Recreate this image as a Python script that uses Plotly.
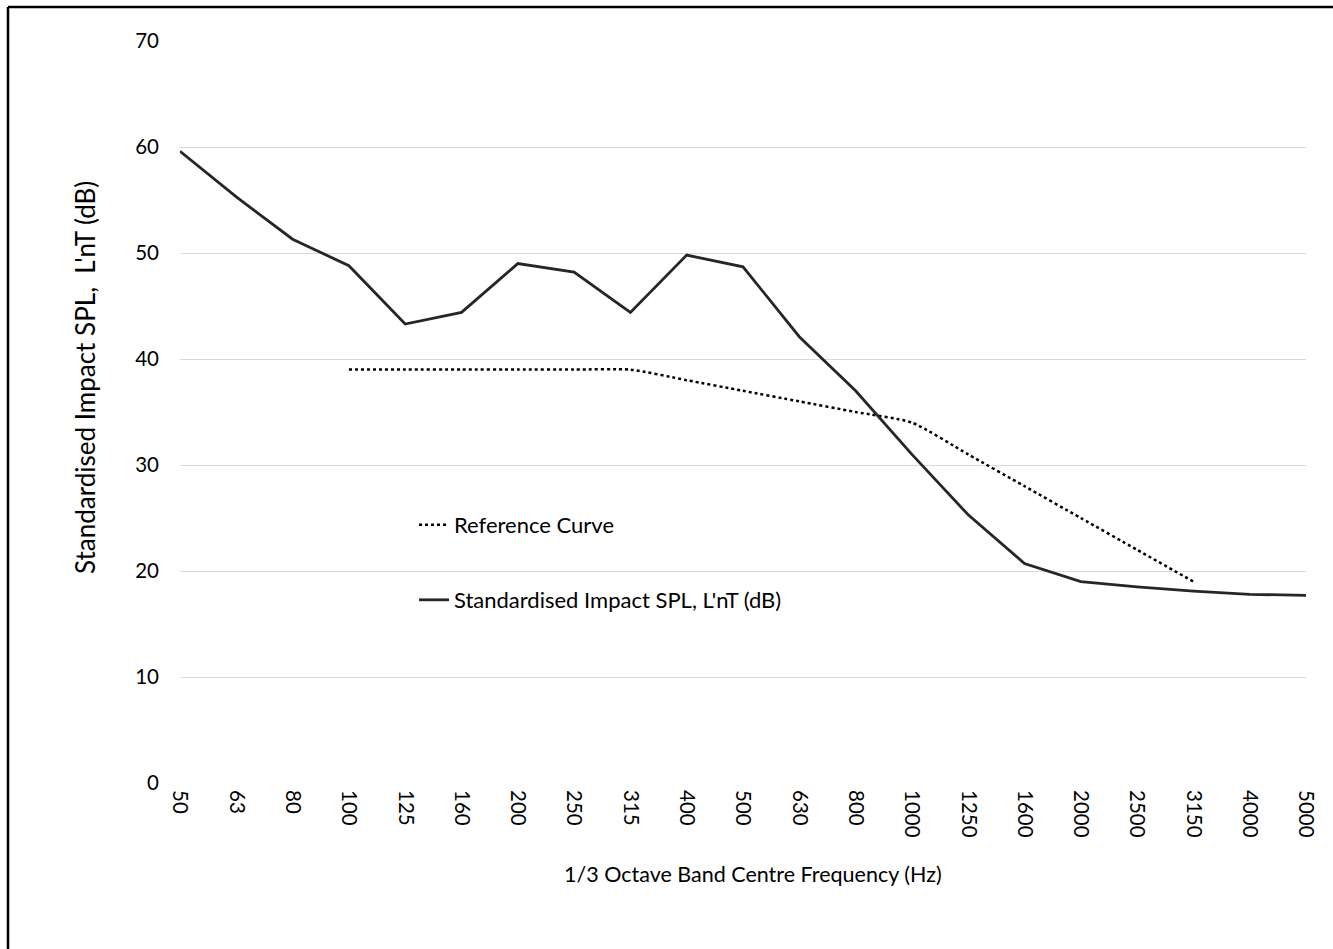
import plotly.graph_objects as go

freqs = ["50", "63", "80", "100", "125", "160", "200", "250", "315", "400", "500",
         "630", "800", "1000", "1250", "1600", "2000", "2500", "3150", "4000", "5000"]
lnt = [59.6, 55.3, 51.3, 48.8, 43.3, 44.4, 49.0, 48.2, 44.4, 49.8, 48.7,
       42.1, 37.0, 31.0, 25.3, 20.7, 19.0, 18.5, 18.1, 17.8, 17.7]
ref_freqs = ["100", "125", "160", "200", "250", "315", "400", "500", "630", "800",
             "1000", "1250", "1600", "2000", "2500", "3150"]
ref_curve = [39, 39, 39, 39, 39, 39, 38, 37, 36, 35, 34, 31, 28, 25, 22, 19]

FONT = "Lato"
W, H = 1333, 949
L, R, T, B = 180, 27, 41, 166
pw, ph = W - L - R, H - T - B

def px(x):
    return (x - L) / pw

def py(y):
    return (H - B - y) / ph

fig = go.Figure()
fig.add_trace(go.Scatter(
    x=ref_freqs, y=ref_curve, mode="lines", name="Reference Curve",
    line=dict(color="#000000", width=2.5, dash="dot", shape="spline", smoothing=0.6),
    legend="legend"))
fig.add_trace(go.Scatter(
    x=freqs, y=lnt, mode="lines", name="Standardised Impact SPL, L'nT (dB)",
    line=dict(color="#262626", width=2.8),
    legend="legend2"))

fig.update_layout(
    width=W, height=H,
    margin=dict(l=L, r=R, t=T, b=B, autoexpand=False),
    paper_bgcolor="white", plot_bgcolor="white",
    font=dict(family=FONT, color="#000000", size=20),
    xaxis=dict(
        type="category", categoryorder="array", categoryarray=freqs,
        range=[0, 20], tickangle=90, showgrid=False, zeroline=False,
        showline=False, ticks="", tickfont=dict(size=20.5),
        ticklabelstandoff=6, automargin=False,
    ),
    yaxis=dict(
        range=[0, 70], dtick=10, showgrid=True, gridcolor="#d9d9d9", gridwidth=1,
        zeroline=False, showline=False, ticks="", tickfont=dict(size=20.5),
        ticklabelstandoff=20, automargin=False,
    ),
    legend=dict(x=px(414), y=py(525), xanchor="left", yanchor="middle",
                bgcolor="rgba(0,0,0,0)", font=dict(size=22)),
    legend2=dict(x=px(414), y=py(600), xanchor="left", yanchor="middle",
                 bgcolor="rgba(0,0,0,0)", font=dict(size=22)),
    showlegend=True,
)

fig.add_annotation(text="1/3 Octave Band Centre Frequency (Hz)", xref="paper", yref="paper",
                   x=px(753), y=py(874), xanchor="center", yanchor="middle",
                   showarrow=False, font=dict(size=21.5))
fig.add_annotation(text="Standardised Impact SPL,  L'nT (dB)", xref="paper", yref="paper",
                   x=px(85), y=py(378), xanchor="center", yanchor="middle", textangle=-90,
                   showarrow=False, font=dict(size=26))

# outer chart border (top and left visible)
fig.add_shape(type="line", xref="paper", yref="paper",
              x0=px(8), x1=px(W + 5), y0=py(7), y1=py(7),
              line=dict(color="#000000", width=2.5))
fig.add_shape(type="line", xref="paper", yref="paper",
              x0=px(8), x1=px(8), y0=py(7), y1=py(H + 5),
              line=dict(color="#000000", width=2.5))

fig.write_html("out.html", config={"displayModeBar": False},
               post_script="document.body.style.margin='0px';")
